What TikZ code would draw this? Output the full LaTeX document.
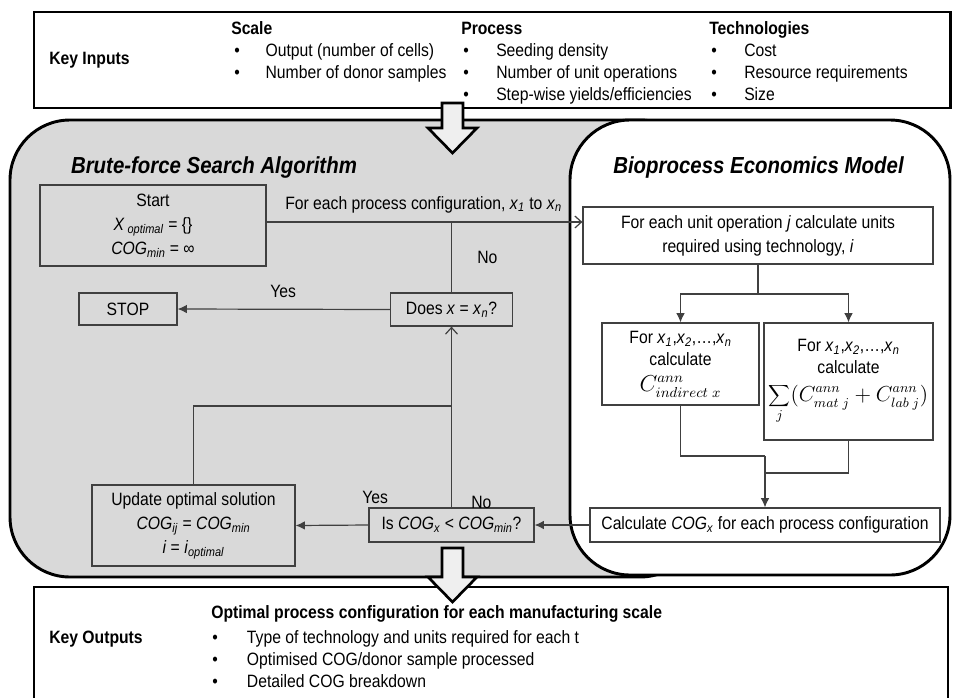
\documentclass[tikz,border=0pt]{standalone}
\usepackage{graphicx}
\usepackage{fontspec}
\setmainfont{Liberation Sans}[FakeStretch=0.88]
\usetikzlibrary{arrows.meta}
\definecolor{regiongrey}{HTML}{D9D9D9}
\definecolor{blockfill}{HTML}{EFEFEF}
\definecolor{linegrey}{HTML}{404040}
\newcommand\fs{\fontsize{13.4pt}{16.3pt}\selectfont}
\newcommand\fsbox{\fontsize{13.4pt}{18pt}\selectfont}
\newcommand\fstitle{\fontsize{17.4pt}{20pt}\selectfont\bfseries\itshape}
\newcommand\blt[1]{\makebox[#1][l]{\textbullet}}
\newcommand\vsb[2]{\textit{#1}\textsubscript{\textit{#2}}}
\begin{document}
\begin{tikzpicture}[x=0.75pt,y=-0.75pt,
  txt/.style={font=\fs, inner sep=0pt},
  boxnode/.style={draw=linegrey, line width=0.9pt, inner sep=0pt, align=center, font=\fsbox},
  pxsize/.style 2 args={minimum width=#1*0.75pt, minimum height=#2*0.75pt},
  conn/.style={draw=linegrey, line width=0.9pt},
  farrow/.style={conn, -{Latex[length=7pt,width=6.5pt]}},
  oarrow/.style={conn, -{Straight Barb[length=5pt,width=9pt]}},
  region/.style={line width=2.2pt, rounded corners=45pt},
  block/.style={draw=black, fill=blockfill, line width=2pt, line join=miter}]

\useasboundingbox (0,0) rectangle (953,697);

% key inputs / outputs frames
\draw[line width=2.2pt] (34,12) rectangle (950.5,108);
\draw[line width=2.2pt] (34,587) rectangle (948,720);

% regions
\draw[region, fill=regiongrey] (10,120) rectangle (700,577);
\draw[region, fill=white] (570,120) rectangle (950,575);

% key inputs text
\node[txt, font=\fs\bfseries, anchor=base west] (kin) at (49,64) {Key Inputs};
\node[txt, font=\fs\bfseries, anchor=base west] (hsc) at (231,34) {Scale};
\node[txt, anchor=base west] (sc1) at (234,56.5) {\blt{23.5pt}Output (number of cells)};
\node[txt, anchor=base west] (sc2) at (234,78.5) {\blt{23.5pt}Number of donor samples};
\node[txt, font=\fs\bfseries, anchor=base west] (hpr) at (461,34) {Process};
\node[txt, anchor=base west] (pr1) at (463,56.5) {\blt{24.75pt}Seeding density};
\node[txt, anchor=base west] (pr2) at (463,78.5) {\blt{24.75pt}Number of unit operations};
\node[txt, anchor=base west] (pr3) at (463,100.5) {\blt{24.75pt}Step-wise yields/efficiencies};
\node[txt, font=\fs\bfseries, anchor=base west] (hte) at (709,34) {Technologies};
\node[txt, anchor=base west] (te1) at (711,56.5) {\blt{24.75pt}Cost};
\node[txt, anchor=base west] (te2) at (711,78.5) {\blt{24.75pt}Resource requirements};
\node[txt, anchor=base west] (te3) at (711,100.5) {\blt{24.75pt}Size};

% key outputs text
\node[txt, font=\fs\bfseries, anchor=base west] (kout) at (49,643) {Key Outputs};
\node[txt, font=\fs\bfseries, anchor=base west] (hop) at (211,618) {Optimal process configuration for each manufacturing scale};
\node[txt, anchor=base west] (op1) at (212,643) {\blt{26pt}Type of technology and units required for each t};
\node[txt, anchor=base west] (op2) at (212,665) {\blt{26pt}Optimised COG/donor sample processed};
\node[txt, anchor=base west] (op3) at (212,687) {\blt{26pt}Detailed COG breakdown};

% titles
\node[txt, font=\fstitle, anchor=base] (tbf) at (214,173) {Brute-force Search Algorithm};
\node[txt, font=\fstitle, anchor=base] (tbe) at (758.5,173) {Bioprocess Economics Model};

% boxes
\node[boxnode, pxsize={226}{81}] (start) at (153,225.5)
  {Start\\ \textit{X}\,\textsubscript{\textit{optimal}} = \{\}\\ \vsb{COG}{min} = ∞};
\node[boxnode, pxsize={350}{57}] (unitop) at (758,235.5)
  {For each unit operation \textit{j} calculate units\\ required using technology, \textit{i}};
\node[boxnode, pxsize={122}{33}] (does) at (451.5,309.5) {Does \textit{x} = \vsb{x}{n}?};
\node[boxnode, pxsize={98}{32}] (stop) at (128,309) {STOP};
\node[boxnode, pxsize={157}{82}] (indirect) at (680.5,364)
  {For \vsb{x}{1},\vsb{x}{2},…,\vsb{x}{n}\\[-1pt] calculate\\[1pt] \scalebox{1.2}{$C^{ann}_{indirect\;x}$}};
\node[boxnode, pxsize={169}{117}] (sum) at (848.5,381.5)
  {For \vsb{x}{1},\vsb{x}{2},…,\vsb{x}{n}\\[-1pt] calculate\\[3pt] \scalebox{1.13}{$\displaystyle\sum_j\bigl(C^{ann}_{mat\;j}+C^{ann}_{lab\;j}\bigr)$}};
\node[boxnode, pxsize={350}{34}] (calc) at (765,525)
  {Calculate \vsb{COG}{x} for each process configuration};
\node[boxnode, pxsize={165}{34}] (is) at (451.5,525) {Is \vsb{COG}{x} < \vsb{COG}{min}?};
\node[boxnode, pxsize={203}{81}] (update) at (193.5,525.5)
  {Update optimal solution\\ \vsb{COG}{ij} = \vsb{COG}{min}\\ \textit{i} = \vsb{i}{optimal}};

% labels
\node[txt, anchor=base west] (lfor) at (285,209) {For each process configuration, \vsb{x}{1} to \vsb{x}{n}};
\node[txt, anchor=base west] (lno1) at (477,263) {No};
\node[txt, anchor=base west] (lyes1) at (270,297) {Yes};
\node[txt, anchor=base west] (lyes2) at (362,503) {Yes};
\node[txt, anchor=base west] (lno2) at (471,508) {No};

% junctions
\coordinate (j1) at (451.5,222);
\coordinate (j2) at (451.5,406);
\coordinate (j3) at (758,294);
\coordinate (j4) at (765,456);
\coordinate (j5) at (765,473);

% connectors
\draw[oarrow] (start.east |- j1) -- (unitop.west |- j1);
\draw[conn] (j1) -- (does.north);
\draw[farrow] (does.west) -- (stop.east);
\draw[oarrow] (is.north) -- (does.south);
\draw[conn] (j2) -| (update.north);
\draw[conn] (unitop.south) -- (j3);
\draw[farrow] (j3) -| (indirect.north);
\draw[farrow] (j3) -| (sum.north);
\draw[conn] (indirect.south) |- (j4);
\draw[conn] (sum.south) |- (j5);
\draw[farrow] (j4) -- (calc.north);
\draw[farrow] (calc.west) -- (is.east);
\draw[farrow] (is.west) -- (update.east);

% block arrows
\draw[block] (442,103) -- (463,103) -- (463,128) -- (477,128) -- (452.5,153) -- (428,128) -- (442,128) -- cycle;
\draw[block] (442,548) -- (463,548) -- (463,577) -- (477,577) -- (452.5,602) -- (428,577) -- (442,577) -- cycle;
\end{tikzpicture}
\end{document}
